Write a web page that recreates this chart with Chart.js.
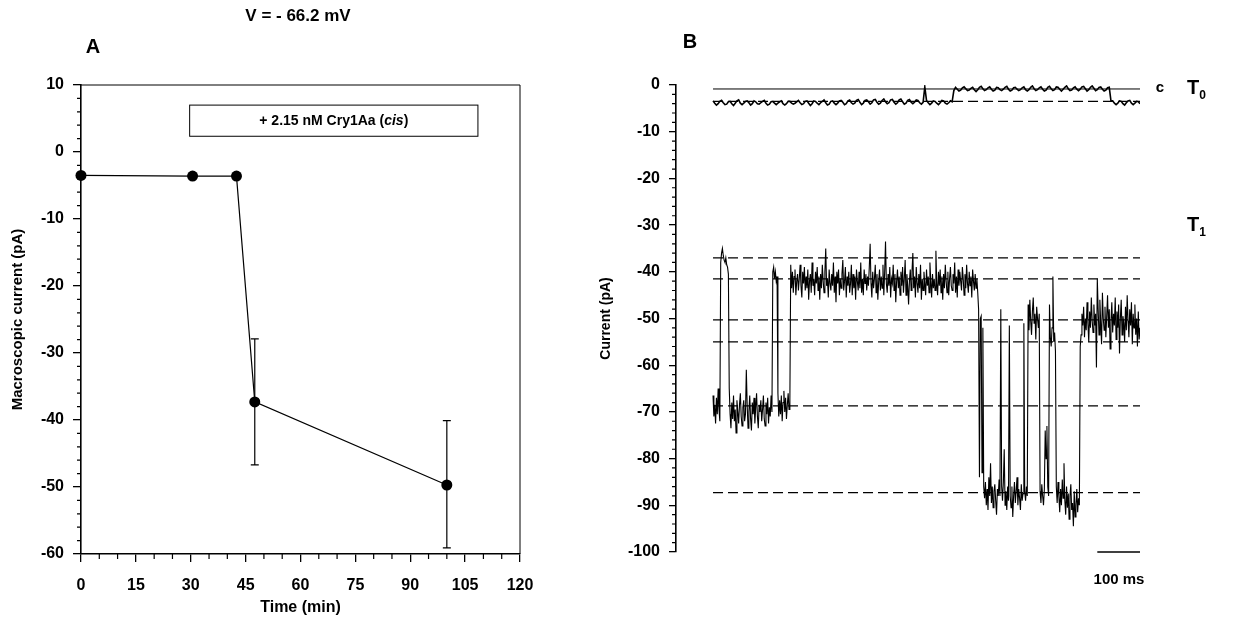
<!DOCTYPE html>
<html>
<head>
<meta charset="utf-8">
<script src="https://cdn.jsdelivr.net/npm/chart.js@4.4.1/dist/chart.umd.min.js"></script>
<style>
body { margin: 0; background: #fff; width: 1238px; height: 626px; overflow: hidden; position: relative; }
canvas { position: absolute; top: 0; }
#chartA { left: 0; }
#chartB { left: 590px; }
</style>
</head>
<body>
<canvas id="chartA" width="610" height="626"></canvas>
<canvas id="chartB" width="648" height="626"></canvas>
<script>
// Panel A: macroscopic current vs time
const timeMin = [0, 30.5, 42.5, 47.5, 100];
const currentPa = [-3.5, -3.6, -3.6, -37.3, -49.7];
const errTop = [null, null, null, -27.9, -40.1];
const errBottom = [null, null, null, -46.7, -59.1];

// Panel B: single channel traces
const sampleMsT0 = 4;
const traceT0 = [
  -3.4,-3.9,-4.3,-4.0,-3.5, -3.3,-3.8,-4.2,-4.1,-3.6, -3.5,-4.0,-4.4,-3.9,-3.4, -3.2,-3.9,-4.2,-3.9,-3.5,
  -3.4,-3.8,-4.3,-4.0,-3.4, -3.6,-4.0,-4.1,-3.8,-3.5, -3.3,-3.9,-4.3,-4.1,-3.6, -3.5,-3.9,-4.2,-3.9,-3.6,
  -3.4,-4.0,-4.3,-4.0,-3.5, -3.5,-3.9,-4.1,-3.9,-3.6, -3.3,-3.8,-4.2,-4.0,-3.5, -3.4,-3.9,-4.4,-4.0,-3.4,
  -3.5,-3.9,-4.2,-3.8,-3.5, -3.2,-3.8,-4.3,-4.1,-3.5, -3.4,-3.9,-4.2,-3.9,-3.4, -3.3,-3.7,-4.2,-4.0,-3.4,
  -3.2,-3.8,-4.1,-3.9,-3.3, -3.1,-3.7,-4.2,-3.9,-3.3, -3.2,-3.6,-4.1,-3.8,-3.2, -3.1,-3.7,-4.1,-3.9,-3.3,
  -3.0,-3.6,-4.0,-3.8,-3.2, -3.1,-3.7,-4.1,-3.8,-3.2, -3.0,-3.6,-4.1,-3.9,-3.3, -3.1,-3.7,-4.0,-3.7,-3.2,
  -3.3,-3.8,-4.1,-3.7,
  -0.4,
  -3.3,-3.8,-4.2,-3.9,-3.4, -3.5,-3.9,-4.2,-3.8,-3.3, -3.4,-3.9,-4.1,-3.8,-3.4, -3.6,
  -1.2,
  -0.5,-0.9,-1.3,-1.1,-0.6, -0.4,-0.8,-1.2,-1.1,-0.7, -0.5,-1.0,-1.4,-1.0,-0.5, -0.3,-0.8,-1.2,-1.0,-0.6,
  -0.4,-0.9,-1.3,-1.1,-0.5, -0.6,-1.0,-1.2,-0.9,-0.5, -0.3,-0.9,-1.3,-1.1,-0.6, -0.5,-0.9,-1.2,-1.0,-0.6,
  -0.4,-1.0,-1.3,-1.0,-0.5, -0.2,-0.8,-1.2,-1.0,-0.6, -0.4,-0.9,-1.3,-1.1,-0.5, -0.3,-0.8,-1.2,-1.0,-0.4,
  -0.5,-0.9,-1.3,-0.9,-0.5, -0.2,-0.8,-1.2,-1.1,-0.6, -0.4,-0.9,-1.2,-0.9,-0.4, -0.3,-0.8,-1.3,-1.0,-0.5,
  -0.2,-0.7,-1.2,-1.0,-0.5, -0.4,-0.9,-1.3,-1.1,-0.6, -0.5,
  -3.4,
  -3.4,-3.9,-4.2,-3.9,-3.4, -3.5,-4.0,-4.3,-3.8,-3.4, -3.3,-3.9,-4.2,-3.9,-3.5, -3.6,-4.0
];

const sampleMsT1 = 2;
const traceT1 = [
  // 0-16 ms
  -66.5,-71.0,-68.5,-72.5,-67.0,-70.5,-65.0,-69.5,-72.0,
  // 18-36 ms
  -38.0,-36.0,-35.0,-36.5,-37.5,-38.0,-37.0,-38.5,-39.0,-40.5,
  // 38-138 ms
  -65.0,-70.5,-73.5,-68.0,-71.5,-66.5,-72.0,-69.5,-74.5,-67.5,
  -70.0,-72.5,-68.5,-66.0,-71.0,-73.0,-69.0,-67.5,-72.0,-70.5,
  -61.0,-68.5,-73.5,-70.0,-66.5,-71.5,-74.0,-68.0,-70.5,-67.0,
  -72.5,-69.0,-66.0,-71.0,-73.5,-68.5,-70.0,-67.5,-72.0,-69.5,
  -66.5,-71.5,-73.0,-68.0,-70.5,-67.0,-72.5,-69.0,-71.0,-66.5,
  -70.0,
  // 140-150 ms
  -40.0,-39.0,-41.5,-40.0,-42.0,-41.0,
  // 152-180 ms
  -66.0,-71.0,-67.5,-70.5,-66.5,-72.0,-68.0,-65.5,-70.0,-67.0,-71.5,-68.5,-66.0,-69.5,-67.5,
  // 182-620 ms
  -38.5,-43.5,-40.0,-44.5,-41.0,-39.5,-45.0,-42.0,-40.5,-44.0,
  -41.5,-38.5,-43.0,-45.5,-40.0,-42.5,-39.0,-44.0,-41.0,-43.5,
  -39.5,-46.0,-42.0,-40.5,-44.5,-38.0,-43.0,-41.5,-45.0,-40.0,
  -42.5,-39.0,-44.0,-41.0,-46.0,-40.5,-43.5,-38.5,-42.0,-44.5,
  -40.0,-35.0,-43.0,-41.5,-45.5,-39.5,-42.5,-44.0,-40.5,-43.0,
  -38.0,-44.5,-41.0,-46.5,-40.0,-42.5,-39.5,-45.0,-41.5,-43.5,
  -40.5,-37.5,-44.0,-42.0,-39.0,-45.5,-41.0,-43.0,-40.0,-44.5,
  -42.5,-38.5,-45.0,-40.5,-43.5,-41.0,-46.0,-39.5,-42.0,-44.0,
  -40.0,-43.5,-38.0,-44.5,-41.5,-45.0,-39.5,-42.5,-40.5,-44.0,
  -41.0,-43.0,-39.0,-34.0,-42.5,-45.5,-40.0,-43.5,-41.5,-38.5,
  -44.5,-40.5,-46.0,-42.0,-39.5,-44.0,-41.0,-43.5,-38.5,-45.0,
  -40.0,-33.5,-42.5,-44.5,-40.5,-43.0,-39.0,-45.5,-41.5,-42.5,
  -38.5,-44.0,-40.5,-46.5,-42.0,-39.5,-43.5,-41.0,-45.0,-40.0,
  -43.0,-39.0,-44.5,-41.5,-37.5,-45.0,-40.5,-43.0,-47.0,-42.0,
  -39.5,-44.0,-40.0,-36.0,-43.5,-41.0,-45.5,-39.0,-42.5,-44.5,
  -40.5,-43.5,-38.5,-46.0,-41.5,-44.0,-40.0,-42.5,-45.0,-39.5,
  -43.0,-41.0,-44.5,-38.0,-42.0,-45.5,-40.5,-43.5,-41.5,-44.0,
  -35.5,-42.5,-45.0,-40.0,-43.0,-39.5,-44.5,-41.0,-46.0,-40.5,
  -43.5,-38.5,-42.0,-44.5,-40.0,-45.0,-41.5,-39.0,-43.0,-44.0,
  -40.5,-42.5,-38.0,-44.5,-41.0,-45.5,-39.5,-43.0,-40.0,-42.0,
  -44.0,-39.0,-41.5,-45.0,-40.5,-43.5,-38.5,-42.5,-44.5,-40.0,
  -43.0,-41.0,-45.5,-39.5,-42.0,-44.0,-40.5,-43.5,-41.5,-44.5,
  // 622-632 ms
  -48.0,-84.0,-50.0,-49.5,-83.0,-52.0,
  // 634-670 ms
  -86.0,-88.5,-85.0,-90.0,-86.5,-91.0,-84.0,-88.0,-81.0,-89.5,
  -86.0,-90.5,-87.0,-85.5,-89.0,-92.0,-86.5,-88.0,-84.5,
  // 672-696 ms
  -88.0,-48.0,-86.0,-89.0,-85.0,-78.0,-90.0,-87.0,-91.0,-86.0,-89.0,-51.5,-88.0,
  // 698-726 ms
  -90.5,-86.0,-92.5,-88.0,-85.0,-89.5,-87.0,-84.0,-90.0,-86.5,-88.5,-91.0,-85.5,-89.0,-87.5,
  // 728-736 ms
  -51.0,-87.0,-89.0,-86.0,-88.0,
  // 738-764 ms
  -47.0,-52.5,-46.0,-50.5,-53.5,-48.5,-45.5,-51.0,-49.0,-54.5,-47.5,-50.0,-52.0,-49.0,
  // 766-776 ms
  -87.0,-89.5,-85.5,-88.0,-90.0,-86.5,
  // 778-804 ms
  -74.0,-80.0,-73.0,-86.0,-88.0,-47.0,-54.0,-56.0,-52.0,-41.0,-55.0,-53.0,-57.0,-86.0,
  // 806-858 ms
  -89.5,-85.0,-88.0,-91.5,-86.5,-90.0,-84.5,-88.5,-81.0,-89.0,
  -92.0,-86.0,-90.5,-87.5,-93.0,-88.0,-85.5,-91.0,-89.5,-94.5,
  -87.0,-92.5,-90.0,-86.5,-91.5,-88.5,-90.0,
  // 860 ms
  -56.0,
  // 862-1000 ms
  -53.5,-49.0,-51.5,-47.5,-54.0,-50.0,-52.5,-46.5,-51.0,-55.0,
  -48.5,-52.0,-45.5,-50.5,-53.0,-47.0,-51.5,-49.0,-60.5,-41.5,
  -48.0,-53.5,-46.0,-51.0,-55.5,-44.5,-50.0,-52.5,-47.5,-54.0,
  -49.5,-45.0,-52.0,-48.0,-56.5,-50.5,-46.5,-53.0,-49.0,-51.5,
  -45.5,-54.5,-48.5,-52.0,-47.0,-57.5,-50.0,-46.0,-53.5,-49.5,
  -51.0,-55.0,-47.5,-52.5,-45.0,-50.5,-54.0,-48.0,-51.5,-46.5,
  -55.5,-49.0,-52.0,-47.0,-53.5,-50.0,-56.0,-48.5,-54.5,-52.0
];
const closedLevel = -0.85;
const t0Levels = [-3.5];
const t1Levels = [-37.0, -41.5, -50.3, -55.0, -68.7, -87.3];
const traceSpan = [0, 1000];
const scaleBarMs = [900, 1000];

Chart.defaults.font.family = '"Liberation Sans Narrow", "Liberation Sans", Arial, sans-serif';
Chart.defaults.font.weight = 'bold';
Chart.defaults.color = '#000';

const B_LEFT = 590; // page offset of canvas B

const toPoints = (vals, step) => vals.map((v, i) => ({ x: i * step, y: v }));
const levelLine = lv => traceSpan.map(t => ({ x: t, y: lv }));

function minorTicksY(ctx, scale, from, to, len) {
  ctx.beginPath();
  for (let v = from; v <= to; v += 2) {
    if (v % 10 === 0) continue;
    const p = scale.getPixelForValue(v);
    ctx.moveTo(scale.right - len, p);
    ctx.lineTo(scale.right, p);
  }
  ctx.stroke();
}

const panelA = {
  id: 'panelA',
  beforeDatasetsDraw(chart) {
    const { ctx, chartArea: a, scales: { x, y } } = chart;
    ctx.save();
    ctx.strokeStyle = '#000';
    ctx.lineWidth = 1;
    ctx.beginPath();
    ctx.moveTo(a.left, a.top); ctx.lineTo(a.right, a.top); ctx.lineTo(a.right, a.bottom);
    ctx.stroke();

    // error bars
    ctx.lineWidth = 1.2;
    timeMin.forEach((t, i) => {
      if (errTop[i] == null) return;
      const px = x.getPixelForValue(t);
      const y1 = y.getPixelForValue(errTop[i]);
      const y2 = y.getPixelForValue(errBottom[i]);
      ctx.beginPath();
      ctx.moveTo(px, y1); ctx.lineTo(px, y2);
      ctx.moveTo(px - 4, y1); ctx.lineTo(px + 4, y1);
      ctx.moveTo(px - 4, y2); ctx.lineTo(px + 4, y2);
      ctx.stroke();
    });

    minorTicksY(ctx, y, -60, 10, 4);
    ctx.beginPath();
    for (let v = 5; v < 120; v += 5) {
      if (v % 15 === 0) continue;
      const p = x.getPixelForValue(v);
      ctx.moveTo(p, x.top); ctx.lineTo(p, x.top + 5);
    }
    ctx.stroke();

    // treatment box
    const bx1 = x.getPixelForValue(29.7), bx2 = x.getPixelForValue(108.5);
    const by1 = y.getPixelForValue(7.0), by2 = y.getPixelForValue(2.35);
    ctx.lineWidth = 1;
    ctx.strokeRect(bx1, by1, bx2 - bx1, by2 - by1);
    const fam = Chart.defaults.font.family;
    const parts = [
      ['+ 2.15 nM Cry1Aa (', 'bold 14px ' + fam],
      ['cis', 'italic bold 14px ' + fam],
      [')', 'bold 14px ' + fam]
    ];
    let total = 0;
    parts.forEach(p => { ctx.font = p[1]; total += ctx.measureText(p[0]).width; });
    let tx = (bx1 + bx2) / 2 - total / 2;
    const ty = (by1 + by2) / 2;
    ctx.fillStyle = '#000';
    ctx.textBaseline = 'middle';
    ctx.textAlign = 'left';
    parts.forEach(p => { ctx.font = p[1]; ctx.fillText(p[0], tx, ty); tx += ctx.measureText(p[0]).width; });

    ctx.textAlign = 'center';
    ctx.font = 'bold 17px ' + fam;
    ctx.fillText('V = - 66.2 mV', 298, 16);
    ctx.font = 'bold 20px ' + fam;
    ctx.fillText('A', 93, 47);
    ctx.restore();
  }
};

const panelB = {
  id: 'panelB',
  afterDatasetsDraw(chart) {
    const { ctx, scales: { x, y } } = chart;
    const fam = Chart.defaults.font.family;
    ctx.save();
    ctx.strokeStyle = '#000';
    ctx.fillStyle = '#000';
    ctx.lineWidth = 1.2;
    minorTicksY(ctx, y, -100, 0, 4);

    // 100 ms scale bar
    const yb = y.getPixelForValue(-100);
    ctx.lineWidth = 1.3;
    ctx.beginPath();
    ctx.moveTo(x.getPixelForValue(scaleBarMs[0]), yb);
    ctx.lineTo(x.getPixelForValue(scaleBarMs[1]), yb);
    ctx.stroke();

    ctx.textBaseline = 'middle';
    ctx.textAlign = 'center';
    ctx.font = 'bold 15px ' + fam;
    ctx.fillText('100 ms', 1119 - B_LEFT, 580);
    ctx.font = 'bold 15px ' + fam;
    ctx.fillText('c', 1160 - B_LEFT, 88);
    ctx.font = 'bold 20px ' + fam;
    ctx.fillText('B', 690 - B_LEFT, 42);

    ctx.textAlign = 'left';
    ctx.textBaseline = 'alphabetic';
    [['0', 94], ['1', 231]].forEach(([sub, base]) => {
      ctx.font = 'bold 20px ' + fam;
      ctx.fillText('T', 1187 - B_LEFT, base);
      const w = ctx.measureText('T').width;
      ctx.font = 'bold 12px ' + fam;
      ctx.fillText(sub, 1187 - B_LEFT + w, base + 5);
    });
    ctx.restore();
  }
};

new Chart(document.getElementById('chartA'), {
  type: 'line',
  data: {
    datasets: [{
      data: timeMin.map((t, i) => ({ x: t, y: currentPa[i] })),
      borderColor: '#000',
      borderWidth: 1.2,
      backgroundColor: '#000',
      pointRadius: 5.5,
      pointBorderWidth: 0,
      tension: 0,
      clip: false
    }]
  },
  options: {
    responsive: false,
    animation: false,
    devicePixelRatio: 1,
    layout: { padding: { left: 0, right: 90, top: 85, bottom: 0 } },
    plugins: { legend: { display: false }, tooltip: { enabled: false } },
    scales: {
      x: {
        type: 'linear', min: 0, max: 120,
        ticks: { stepSize: 15, padding: 14, font: { size: 16 } },
        grid: { drawOnChartArea: false, tickLength: 8, color: '#000', lineWidth: 1.3 },
        border: { color: '#000', width: 1.6 },
        title: { display: true, text: 'Time (min)', font: { size: 16 }, padding: { top: 0, bottom: 9 } },
        afterFit: s => { s.height = 72; }
      },
      y: {
        min: -60, max: 10,
        ticks: { stepSize: 10, padding: 9, font: { size: 16 } },
        grid: { drawOnChartArea: false, tickLength: 8, color: '#000', lineWidth: 1.3 },
        border: { color: '#000', width: 1.6 },
        title: { display: true, text: 'Macroscopic current (pA)', font: { size: 15 }, padding: { top: 9, bottom: 0 } },
        afterFit: s => { s.width = 81; }
      }
    }
  },
  plugins: [panelA]
});

const lineDefaults = { borderColor: '#000', pointRadius: 0, tension: 0, fill: false };
new Chart(document.getElementById('chartB'), {
  type: 'line',
  data: {
    datasets: [
      { ...lineDefaults, data: toPoints(traceT1, sampleMsT1), borderWidth: 1.1 },
      { ...lineDefaults, data: toPoints(traceT0, sampleMsT0), borderWidth: 1.6 },
      { ...lineDefaults, data: levelLine(closedLevel), borderWidth: 1 },
      ...t0Levels.concat(t1Levels).map(lv => ({ ...lineDefaults, data: levelLine(lv), borderWidth: 1.2, borderDash: [10, 5] }))
    ]
  },
  options: {
    responsive: false,
    animation: false,
    devicePixelRatio: 1,
    layout: { padding: { left: 0, right: 98, top: 85, bottom: 74 } },
    plugins: { legend: { display: false }, tooltip: { enabled: false } },
    scales: {
      x: { type: 'linear', min: -86.7, max: 1000, display: false },
      y: {
        min: -100, max: 0,
        ticks: { stepSize: 10, padding: 9, font: { size: 16 } },
        grid: { drawOnChartArea: false, tickLength: 7, color: '#000', lineWidth: 1.3 },
        border: { color: '#000', width: 1.6 },
        title: { display: true, text: 'Current (pA)', font: { size: 14 }, padding: { top: 8, bottom: 0 } },
        afterFit: s => { s.width = 86; }
      }
    }
  },
  plugins: [panelB]
});
</script>
</body>
</html>
